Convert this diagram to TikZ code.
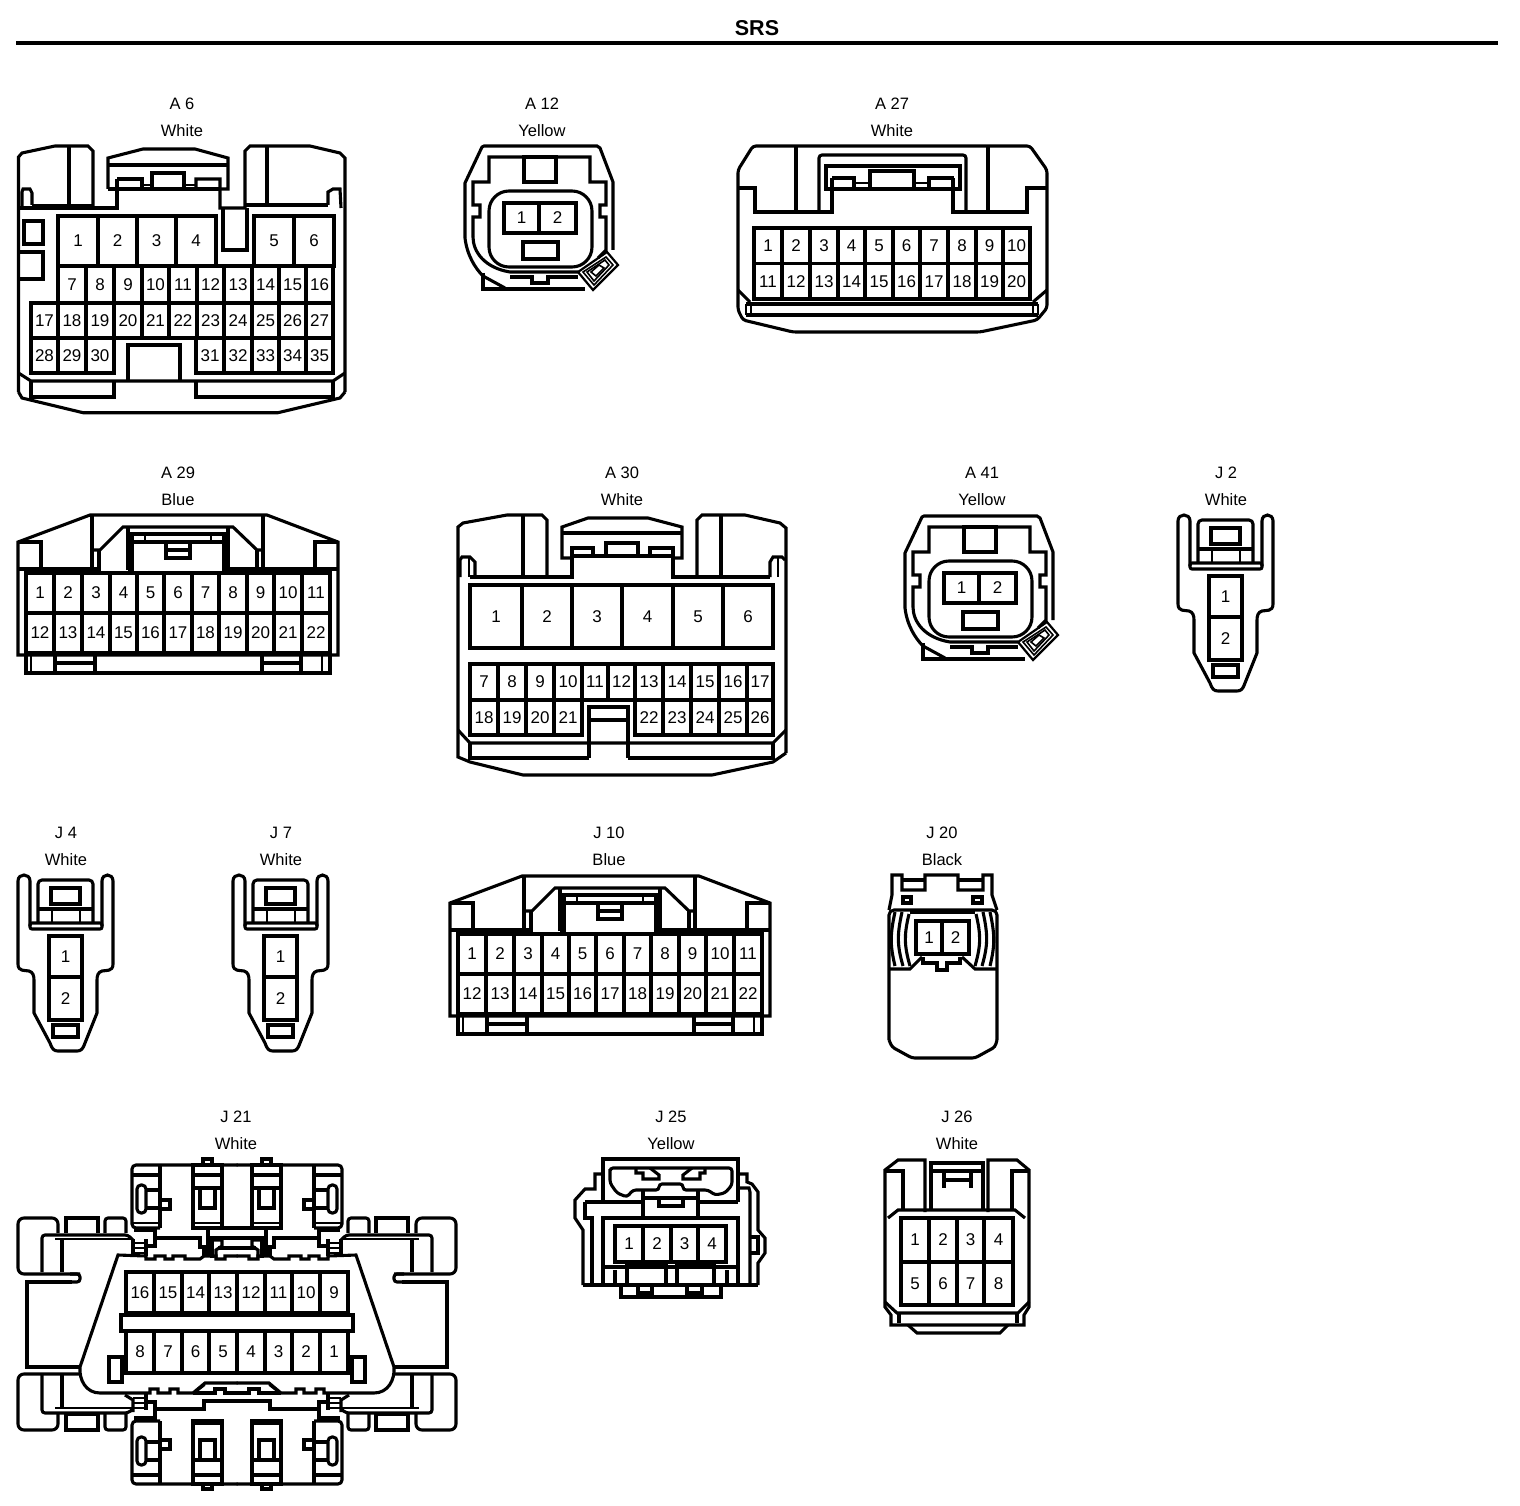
\documentclass[tikz,border=0pt]{standalone}
\usepackage{fontspec}
\setmainfont{Liberation Sans}
\tikzset{
  pintext/.style={inner sep=0pt,font=\fontsize{17}{19}\selectfont},
  captext/.style={inner sep=0pt,font=\fontsize{16.5}{18}\selectfont},
  thin line/.style={line width=1.6pt},
  ttl/.style={inner sep=0pt,font=\fontsize{21.5}{23}\selectfont\bfseries}
}
\newcommand\cellrow[4]{\foreach \a/\b/\t in {#4}{\draw (\a,#2) rectangle (\b,#3);
  \node[pintext] (#1\t) at ({(\a+\b)/2},{(#2+#3)/2}) {\t};}}
\newcommand\capt[5]{\node[captext] (#1n) at (#2,#3+0.7) {#4}; \node[captext] (#1c) at (#2,#3+28) {#5};}
% A12 / A41 body
\newcommand\ovalbody[1]{%
  \draw (465,238)--(465,183)--(482,147)--(484,146)--(597,146)--(600,148)--(613,182)--(613,250);
  \draw (465,238) .. controls (467,255) and (475,268) .. (483,276) -- (505,288);
  \draw (483,273)--(483,289)--(585,289);
  \draw (473,237)--(473,217)--(480,217)--(480,205)--(473,205)--(473,182)--(489,182)--(489,157)--(590,157)--(590,182)--(606,182)--(606,205)--(600,205)--(600,217)--(606,217)--(606,237)--(606,250)--(598,258);
  \draw (473,237) .. controls (473,252) and (485,268) .. (510,272) -- (578,272);
  \draw (510,277)--(532,277)--(532,283)--(548,283)--(548,277)--(578,277);
  \draw (524,157) rectangle (556,182);
  \draw[rounded corners=20] (489,191) rectangle (592,267);
  \cellrow{#1}{203}{233}{504/539/1,539/576/2}
  \draw (523,242) rectangle (558,259);
  \draw[line width=2.2pt] (578,272)--(607,252)--(618,265)--(593,290)--cycle;
  \draw[thin line] (583,272)--(606,257)--(613,265)--(594,285)--cycle;
  \draw[thin line] (587,272)--(605,260)--(609,265)--(594,281)--cycle;
  \draw[thin line] (591,272)--(599,265)--(604,268)--(596,276)--cycle;
}
% A29 / J10 body
\newcommand\widebody[1]{%
  \draw (18,655)--(18,542)--(90,515)--(267,515)--(338,542)--(338,655)--cycle;
  \draw (26,655)--(26,673)--(330,673)--(330,655);
  \draw[thin line] (31,655)--(31,673);\draw[thin line] (322,655)--(322,673);
  \draw (55,655)--(55,673) (95,655)--(95,673) (262,655)--(262,673) (301,655)--(301,673);
  \draw (55,663)--(95,663) (262,663)--(301,663);
  \draw (18,542)--(41,542)--(41,569) (338,542)--(315,542)--(315,569);
  \draw (18,569)--(99,569) (128,569)--(132,569) (224,569)--(338,569);
  \draw[rounded corners=3] (92,573)--(92,515);\draw[rounded corners=3] (263,573)--(263,515);
  \draw (92,550)--(100,550)--(123,527)--(233,527)--(257,550)--(263,550);
  \draw (99,550)--(99,573) (257,550)--(257,573) (128,527)--(128,570) (228,527)--(228,570);
  \draw (132,572)--(132,534)--(224,534)--(224,572);
  \draw (132,542)--(224,542);
  \draw[thin line] (145,534)--(145,542) (211,534)--(211,542);
  \draw (166,543)--(166,558)--(190,558)--(190,543) (166,550)--(190,550);
  \cellrow{#1}{573}{613}{26/54/1,54/82/2,82/110/3,110/137/4,137/164/5,164/192/6,192/219/7,219/247/8,247/274/9,274/302/10,302/330/11}
  \cellrow{#1}{613}{653}{26/54/12,54/82/13,82/110/14,110/137/15,137/164/16,164/192/17,192/219/18,219/247/19,247/274/20,274/302/21,302/330/22}
}
% J2 / J4 / J7 body
\newcommand\plugbody[1]{%
  \draw (1190,566)--(1190,521) .. controls (1190,513) and (1178,513) .. (1178,521) -- (1178,604) .. controls (1178,612) and (1185,610) .. (1189,611) .. controls (1193,612) and (1194,616) .. (1194,620) -- (1194,653) -- (1210,683) .. controls (1212,689) and (1214,691) .. (1218,691) -- (1237,691) .. controls (1241,691) and (1243,689) .. (1245,683) -- (1257,653) -- (1257,620) .. controls (1257,616) and (1258,612) .. (1262,611) .. controls (1266,610) and (1273,612) .. (1273,604) -- (1273,521) .. controls (1273,513) and (1262,513) .. (1262,521) -- (1262,566);
  \draw[rounded corners=2] (1190,563)--(1262,563)--(1262,569)--(1190,569)--cycle;
  \draw[rounded corners=4] (1198,563)--(1198,520)--(1253,520)--(1253,563);
  \draw (1211,528) rectangle (1240,544);
  \draw (1198,549)--(1253,549);
  \draw[thin line] (1212,549)--(1212,562) (1240,549)--(1240,562);
  \cellrow{#1}{576}{617}{1209/1242/1}
  \cellrow{#1}{617}{660}{1209/1242/2}
  \draw (1213,665) rectangle (1238,677);
}
% half of J21
\newcommand\jhalf{%
  \draw[rounded corners=4] (160,1228)--(132,1228)--(132,1165)--(237.5,1165);
  \draw (160,1165)--(160,1228) (132,1175)--(160,1175);
  \draw[thin line] (132,1223)--(160,1223);
  \draw[rounded corners=4] (137,1185) rectangle (146,1213);
  \draw (146,1190)--(160,1190) (146,1208)--(160,1208);
  \draw (160,1200)--(170,1200)--(170,1209)--(160,1209);
  \draw (193,1165) rectangle (222,1228);
  \draw (193,1175)--(222,1175) (193,1188)--(222,1188);
  \draw[thin line] (193,1223)--(222,1223);
  \draw (200,1188)--(200,1208)--(215,1208)--(215,1188);
  \draw (203,1165)--(203,1159)--(212,1159)--(212,1165);
  \draw (193,1228)--(237.5,1228);
  \draw (153,1238)--(200,1238)--(200,1247)--(204,1247)--(204,1256);
  \draw (208,1228)--(208,1256);
  \draw (212,1258)--(212,1238)--(237.5,1238);
  \draw (212,1240)--(222,1240)--(222,1246)--(216,1250)--(216,1258);
  \draw (218,1248)--(237.5,1248);
  \draw (134,1230)--(155,1230)--(155,1246)--(146,1246);
  \draw (146,1239)--(146,1256);
  \draw[thin line] (133,1243)--(146,1243) (133,1248)--(146,1248) (133,1253)--(146,1253);
  % body outline
  \draw (237.5,1256)--(225,1256)--(225,1259)--(216,1259)--(216,1256)--(204,1256)--(200,1259)--(185,1259)--(185,1256)--(173,1256)--(173,1259)--(165,1259)--(165,1256)--(155,1256)--(155,1259)--(146,1259)--(146,1256)--(118,1255)--(80,1367) .. controls (79,1380) and (86,1393) .. (100,1393)--(150,1393)--(150,1389)--(158,1389)--(158,1393)--(170,1393)--(170,1389)--(178,1389)--(178,1393)--(193,1393)--(205,1383)--(237.5,1383);
  \draw[thin line] (196,1392)--(205,1385);
  \draw (193,1393)--(215,1393)--(215,1389)--(225,1389)--(225,1393)--(237.5,1393);
  \draw (109,1357) rectangle (122,1382);
  % wings
  \draw[rounded corners=6] (58,1233)--(58,1218)--(18,1218)--(18,1274)--(80,1274);
  \draw[rounded corners=3] (70,1274)--(80,1274)--(80,1282)--(70,1282);
  \draw (72,1282)--(27,1282)--(27,1367)--(80,1367);
  \draw[rounded corners=6] (80,1374)--(18,1374)--(18,1430)--(58,1430)--(58,1414);
  \draw (66,1233)--(66,1218)--(98,1218)--(98,1233);
  \draw[rounded corners=3] (105,1233)--(105,1218)--(126,1218)--(126,1233);
  \draw[rounded corners=3] (42,1272)--(42,1235)--(128,1235)--(133,1240);
  \draw[thin line] (55,1239)--(132,1239);
  \draw (62,1238)--(62,1272);
  \draw (133,1239)--(133,1256);
  \draw[rounded corners=3] (42,1375)--(42,1413)--(128,1413)--(133,1409);
  \draw[thin line] (55,1408)--(132,1408);
  \draw (62,1375)--(62,1409);
  \draw (66,1430)--(98,1430)--(98,1414)--(66,1414)--cycle;
  \draw[rounded corners=3] (105,1414)--(105,1430)--(126,1430)--(126,1414);
  % lower connection
  \draw (125,1395)--(133,1400)--(133,1412);
  \draw (146,1393)--(146,1410);
  \draw[thin line] (133,1398)--(146,1398) (133,1403)--(146,1403) (133,1408)--(146,1408);
  \draw (146,1402)--(155,1402)--(155,1418)--(134,1418);
  \draw (155,1409)--(204,1409)--(204,1401)--(237.5,1401);
  % bottom block
  \draw[rounded corners=4] (160,1421)--(132,1421)--(132,1484)--(237.5,1484);
  \draw (160,1421)--(160,1484) (132,1475)--(160,1475);
  \draw[rounded corners=4] (137,1437) rectangle (146,1465);
  \draw (146,1442)--(160,1442) (146,1460)--(160,1460);
  \draw (160,1440)--(170,1440)--(170,1449)--(160,1449);
  \draw (193,1421) rectangle (222,1484);
  \draw (193,1460)--(222,1460) (193,1475)--(222,1475);
  \draw[thin line] (193,1424)--(222,1424);
  \draw (200,1460)--(200,1440)--(215,1440)--(215,1460);
  \draw (203,1484)--(203,1489)--(212,1489)--(212,1484);
}
\begin{document}
\begin{tikzpicture}[x=1pt,y=-1pt,line width=3.1pt,line join=miter]
\useasboundingbox (0,0) rectangle (1520,1506);
\fill[white] (0,0) rectangle (1520,1506);
\node[ttl] (title) at (757,28) {SRS};
\coordinate (ruleL) at (16,43); \coordinate (ruleR) at (1498,43);
\draw[line width=3.6pt] (ruleL)--(ruleR);
% captions
\capt{a6}{182}{103}{A 6}{White}
\capt{a12}{542}{103}{A 12}{Yellow}
\capt{a27}{892}{103}{A 27}{White}
\capt{a29}{178}{472}{A 29}{Blue}
\capt{a30}{622}{472}{A 30}{White}
\capt{a41}{982}{472}{A 41}{Yellow}
\capt{j2}{1226}{472}{J 2}{White}
\capt{j4}{66}{832}{J 4}{White}
\capt{j7}{281}{832}{J 7}{White}
\capt{j10}{609}{832}{J 10}{Blue}
\capt{j20}{942}{832}{J 20}{Black}
\capt{j21}{236}{1116}{J 21}{White}
\capt{j25}{671}{1116}{J 25}{Yellow}
\capt{j26}{957}{1116}{J 26}{White}
% A6
\draw (18.5,392)--(18.5,157)--(22,153)--(55,146)--(88,146)--(93,151)--(93,208);
\draw (69,146)--(69,208);
\draw (20,208)--(117,208)--(117,179);
\draw (22,208)--(22,192)--(23,189)--(30,189)--(32,193)--(32,205);
\draw[thin line] (32,205)--(93,205);
\draw (108,189)--(108,158)--(143,149)--(195,149)--(228,158)--(228,189)--(220,189);
\draw (108,189)--(117,189) (108,165)--(228,165);
\draw (117,179)--(142,179)--(142,189);
\draw (152,189)--(152,173)--(184,173)--(184,189);
\draw (196,189)--(196,179)--(220,179)--(220,208)--(245,208)--(245,151)--(250,146)--(310,146)--(340,153)--(345,158)--(345,392);
\draw (117,189)--(220,189);
\draw[thin line] (142,185)--(152,185) (184,185)--(196,185);
\draw (267,146)--(267,205);
\draw (245,205)--(328,205);
\draw (328,205)--(328,192)--(333,189)--(340,189)--(341,208);
\draw (223,208)--(223,250)--(247,250)--(247,208);
\draw (24,221) rectangle (43,244);
\draw (20,252)--(43,252)--(43,279)--(20,279);
\cellrow{a6}{216}{266}{58/98/1,98/137/2,137/176/3,176/216/4,254/294/5,294/334/6}
\cellrow{a6}{266}{303}{58/86/7,86/114/8,114/142/9,142/169/10,169/197/11,197/224/12,224/252/13,252/279/14,279/306/15,306/333/16}
\cellrow{a6}{303}{338}{31/58/17,58/86/18,86/114/19,114/142/20,142/169/21,169/197/22,197/224/23,224/252/24,252/279/25,279/306/26,306/333/27}
\cellrow{a6}{338}{373}{31/58/28,58/86/29,86/114/30,196/224/31,224/252/32,252/279/33,279/306/34,306/333/35}
\draw (128,380)--(128,345)--(180,345)--(180,380);
\draw (18.5,373)--(31,381)--(333,381)--(345,373);
\draw (31,381)--(31,397)--(114,397)--(114,381);
\draw (196,381)--(196,397)--(333,397)--(333,381);
\draw (18.5,392)--(22,398)--(83,412.7)--(278,412.7)--(340,398)--(345,392);
% A12
\ovalbody{a12}
% A27
\draw[rounded corners=3] (738,310)--(738,170)--(753,146)--(1030,146)--(1047,170)--(1047,308)--(1037,320)--(980,332)--(793,332)--(743,320)--cycle;
\draw (738,188)--(755,188)--(755,212)--(832,212)--(832,178);
\draw (1047,188)--(1027,188)--(1027,212)--(953,212)--(953,178);
\draw (796,146)--(796,212) (988,146)--(988,212);
\draw[rounded corners=3] (819,212)--(819,155)--(966,155)--(966,212);
\draw (826,189)--(826,166)--(960,166)--(960,189)--cycle;
\draw (832,178)--(854,178)--(854,189);
\draw (870,189)--(870,171)--(914,171)--(914,189);
\draw (929,189)--(929,178)--(954,178);
\draw[thin line] (854,183)--(870,183) (914,183)--(929,183);
\cellrow{a27}{228}{263.5}{754/782/1,782/810/2,810/838/3,838/865/4,865/893/5,893/920/6,920/948/7,948/976/8,976/1003/9,1003/1030/10}
\cellrow{a27}{263.5}{299}{754/782/11,782/810/12,810/838/13,838/865/14,865/893/15,893/920/16,920/948/17,948/976/18,976/1003/19,1003/1030/20}
\draw (746,304)--(1038,304) (746,315)--(1038,315);
\draw (738,290)--(750,302) (1047,290)--(1033,302);
\draw[thin line] (746,304)--(746,315) (751,304)--(751,315) (1033,304)--(1033,315) (1038,304)--(1038,315);
% A29
\begin{scope}\widebody{a29}\end{scope}
% A30
\draw (786,753)--(773,762)--(712,775)--(523,775)--(470,762)--(458,757)--(458,527)--(463,523)--(507,515)--(542,515)--(547,520)--(547,577);
\draw (523,515)--(523,577);
\draw (470,577)--(572,577)--(572,548)--(593,548)--(593,555);
\draw (572,558)--(562,558)--(562,527)--(588,518)--(648,518)--(682,527)--(682,558)--(673,558);
\draw (562,533)--(682,533);
\draw (606,555)--(606,543)--(638,543)--(638,555);
\draw (650,555)--(650,548)--(673,548)--(673,577)--(770,577);
\draw (572,556)--(673,556);
\draw (697,577)--(697,520)--(702,515)--(745,515)--(780,523)--(786,528)--(786,753);
\draw (721,515)--(721,577);
\draw (460,577)--(460,560)--(462,557)--(470,557)--(475,562)--(475,577);
\draw[thin line] (469,558)--(469,577) (778,558)--(778,577);
\draw (770,577)--(770,562)--(773,557)--(782,557)--(785,560);
\cellrow{a30}{585}{648}{470/522/1,522/572/2,572/622/3,622/673/4,673/723/5,723/773/6}
\cellrow{a30}{664}{700}{470/498/7,498/526/8,526/554/9,554/582/10,582/608/11,608/635/12,635/663/13,663/691/14,691/719/15,719/747/16,747/773/17}
\cellrow{a30}{700}{735}{470/498/18,498/526/19,526/554/20,554/582/21,635/663/22,663/691/23,691/719/24,719/747/25,747/773/26}
\draw (589,758)--(589,707)--(628,707)--(628,758);
\draw (589,720)--(628,720);
\draw (458,730)--(470,743)--(773,743)--(786,730);
\draw (470,743)--(470,758)--(589,758) (628,758)--(773,758)--(773,743);
% A41
\begin{scope}[shift={(440,370)}]\ovalbody{a41}\end{scope}
% J2 J4 J7
\plugbody{j2}
\begin{scope}[shift={(-1160,360)}]\plugbody{j4}\end{scope}
\begin{scope}[shift={(-945,360)}]\plugbody{j7}\end{scope}
% J10
\begin{scope}[shift={(432,361)}]\widebody{j10}\end{scope}
% J20
\draw (889,910)--(892,895)--(892,875)--(902,875)--(902,890)--(925,890)--(925,875)--(958,875)--(958,890)--(983,890)--(983,875)--(992,875)--(992,895)--(997,910);
\draw (902,880)--(925,880) (958,880)--(983,880);
\draw[rounded corners=5] (889,1040)--(889,910)--(997,910)--(997,1040);
\draw[rounded corners=3] (889,1040)--(892,1047)--(912,1058)--(975,1058)--(995,1047)--(997,1040);
\draw (903,897) rectangle (911,903) (973,897) rectangle (982,903);
\draw (910,912)--(975,912);
\draw (889,969)--(910,969)--(922,957) (997,969)--(975,969)--(962,957);
\draw (923,957)--(923,963)--(937,963)--(937,970)--(947,970)--(947,963)--(960,963)--(960,957);
\draw (895,912) .. controls (890,935) and (890,945) .. (895,966);
\draw (902,912) .. controls (897,935) and (897,945) .. (903,966);
\draw (909,914) .. controls (904,935) and (904,945) .. (910,966);
\draw (990,912) .. controls (995,935) and (995,945) .. (990,966);
\draw (983,912) .. controls (988,935) and (988,945) .. (982,966);
\draw (976,914) .. controls (981,935) and (981,945) .. (975,966);
\cellrow{j20}{921}{954}{916/942/1,942/969/2}
% J21
\jhalf
\begin{scope}[shift={(474,0)},xscale=-1]\jhalf\end{scope}
\draw (121,1315) rectangle (353,1331);
\cellrow{j21}{1272}{1313}{126/154/16,154/182/15,182/209/14,209/237/13,237/265/12,265/292/11,292/320/10,320/348/9}
\cellrow{j21}{1331}{1373}{126/154/8,154/182/7,182/209/6,209/237/5,237/265/4,265/292/3,292/320/2,320/348/1}
% J25
\draw (603,1202)--(603,1159)--(738,1159)--(738,1202);
\draw[rounded corners=3] (610,1172)--(610,1168)--(732,1168)--(732,1185)--(725,1193)--(715,1195)--(708,1190)--(683,1190)--(683,1184)--(659,1184)--(659,1190)--(633,1190)--(627,1197)--(617,1193)--(610,1183)--cycle;
\draw (636,1168)--(636,1173)--(643,1173)--(643,1179)--(659,1179)--(659,1175)--(650,1168);
\draw (705,1168)--(705,1173)--(700,1173)--(700,1179)--(683,1179)--(683,1175)--(692,1168);
\draw (603,1174)--(595,1174)--(595,1189)--(585,1189)--(575,1200)--(575,1218)--(583,1230)--(583,1285);
\draw (585,1202)--(585,1218)--(592,1218)--(592,1285);
\draw (585,1202)--(643,1202) (698,1202)--(738,1202);
\draw (643,1198)--(698,1198);
\draw (659,1198)--(659,1206)--(683,1206)--(683,1198);
\draw (643,1190)--(643,1218) (698,1190)--(698,1218);
\draw (603,1285)--(603,1218)--(738,1218)--(738,1285);
\draw (738,1174)--(747,1174)--(747,1182)--(752,1184)--(758,1192)--(758,1230)--(765,1238)--(765,1253)--(758,1263)--(758,1285);
\draw (738,1188)--(749,1188)--(750,1192)--(750,1285);
\draw (750,1237)--(758,1237)--(758,1253)--(750,1253);
\cellrow{j25}{1226}{1262}{615/643/1,643/671/2,671/698/3,698/726/4}
\draw (603,1267)--(738,1267);
\draw (627,1265) rectangle (666,1285) (677,1265) rectangle (714,1285);
\draw (583,1285)--(758,1285);
\draw (615,1270)--(615,1285) (727,1270)--(727,1285);
\draw (621,1285)--(621,1297)--(721,1297)--(721,1285);
\draw (638,1287)--(638,1293)--(652,1293)--(652,1287) (687,1287)--(687,1293)--(702,1293)--(702,1287);
% J26
\draw (885,1302)--(885,1170)--(898,1160)--(925,1160)--(925,1212);
\draw (988,1212)--(988,1160)--(1017,1160)--(1029,1170)--(1029,1302);
\draw (885,1171)--(903,1171)--(903,1210) (1029,1171)--(1012,1171)--(1012,1210);
\draw (931,1210)--(931,1163)--(983,1163)--(983,1210);
\draw (931,1171)--(983,1171);
\draw (944,1171)--(944,1188) (971,1171)--(971,1188) (944,1180)--(971,1180);
\draw (888,1218)--(898,1210)--(1015,1210)--(1025,1218);
\cellrow{j26}{1218}{1262}{901/929/1,929/957/2,957/984/3,984/1013/4}
\cellrow{j26}{1262}{1305}{901/929/5,929/957/6,957/984/7,984/1013/8}
\draw (885,1302)--(897,1313)--(1018,1313)--(1029,1302);
\draw (885,1302)--(885,1307)--(891,1315)--(891,1325)--(1024,1325)--(1024,1315)--(1029,1307)--(1029,1302);
\draw (899,1313)--(899,1323) (1017,1313)--(1017,1323);
\draw (908,1325)--(917,1333)--(1000,1333)--(1008,1325);
\end{tikzpicture}
\end{document}
